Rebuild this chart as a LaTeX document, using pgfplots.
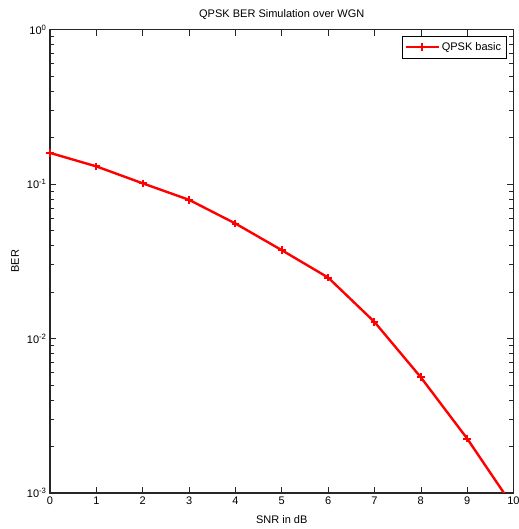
\documentclass[border=0pt]{standalone}
\usepackage{fontspec}
\setmainfont{Liberation Sans}
\usepackage{pgfplots}
\pgfplotsset{compat=1.18}
\begin{document}
\begin{tikzpicture}
\begin{axis}[
  scale only axis, width=463pt, height=463pt,
  ymode=log, xmin=0, xmax=10, ymin=1e-3, ymax=1,
  xtick={0,...,10},
  ytick={1e-3,1e-2,1e-1,1},
  yticklabels={10\textsuperscript{-3},10\textsuperscript{-2},10\textsuperscript{-1},10\textsuperscript{0}},
  /pgf/number format/assume math mode=true,
  tick align=inside,
  major tick length=6pt, minor tick length=4pt,
  axis line style={line width=1.2pt, black!85},
  tick style={black!85, line width=0.6pt},
  font=\fontsize{11}{13}\selectfont,
  title={QPSK BER Simulation over WGN},
  title style={at={(axis description cs:0.5,1.019)}, anchor=center},
  xlabel={SNR in dB}, ylabel={BER},
  xlabel style={at={(axis description cs:0.5,-0.058)}, anchor=center},
  ylabel style={at={(axis description cs:-0.0756,0.5)}, anchor=center},
  legend style={at={(0.985,0.986)}, anchor=north east, draw=black, line width=0.8pt,
    font=\fontsize{11}{13}\selectfont, inner xsep=3pt, inner ysep=4pt},
  legend image code/.code={
    \draw[mark repeat=2, mark phase=2] plot coordinates {(0cm,0cm) (0.57cm,0cm) (1.14cm,0cm)};},
  legend cell align=left,
]
\addplot[red, line width=2.4pt, mark=+, mark size=3.8pt, mark options={line width=2pt}] coordinates {
  (0,0.159) (1,0.130) (2,0.101) (3,0.079) (4,0.0555) (5,0.0373)
  (6,0.0248) (7,0.0128) (8,0.00561) (9,0.00225) (10,0.00081)
};
\addlegendentry{QPSK basic}
\coordinate (sw) at (rel axis cs:0,0);
\coordinate (ne) at (rel axis cs:1,1);
\end{axis}
\pgfresetboundingbox
\path ([shift={(-50pt,-36pt)}]sw) rectangle ([shift={(5pt,29.5pt)}]ne);
\end{tikzpicture}
\end{document}
